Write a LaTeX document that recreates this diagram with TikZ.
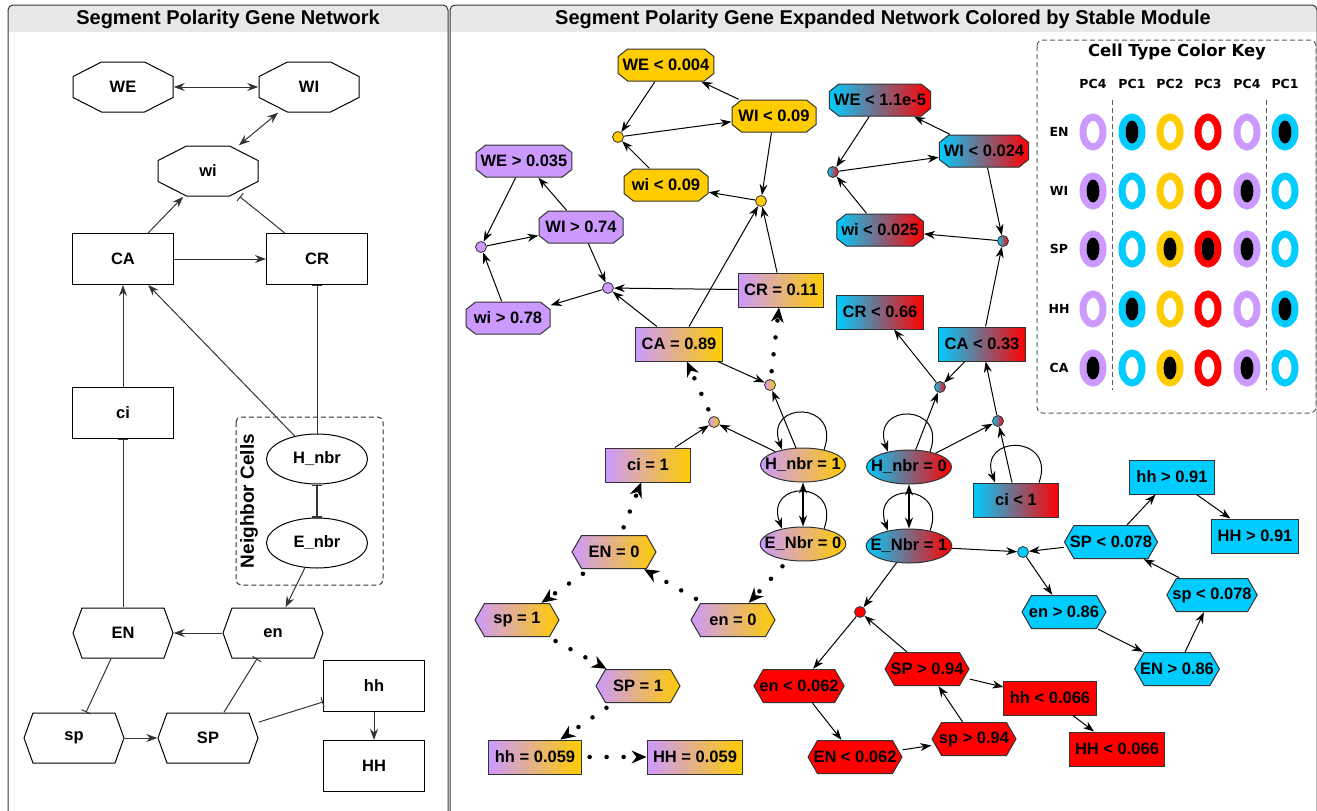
\documentclass[tikz,border=0pt]{standalone}
\usepackage{fontspec}
\setmainfont{Liberation Sans}
\newfontfamily\keyfont{DejaVu Sans}
\usetikzlibrary{arrows.meta,shapes.geometric}

\definecolor{modpurple}{HTML}{CC99FF}
\definecolor{modgold}{HTML}{FFCC00}
\definecolor{modcyan}{HTML}{00CCFF}
\definecolor{modred}{HTML}{FF0000}
\definecolor{bargray}{HTML}{E8E8E8}
\definecolor{edgegray}{HTML}{333333}

\begin{document}
\begin{tikzpicture}
[
    x = 1pt, y = -1pt,
    font = \bfseries\fontsize{16.5}{19}\selectfont,
    octagon/.style n args = {3}{path picture={
        \filldraw[line width=1pt, #3]
          ([xshift=#1, yshift=-0.5pt]path picture bounding box.north west)
          -- ([xshift=-#1, yshift=-0.5pt]path picture bounding box.north east)
          -- ([xshift=-0.5pt, yshift=-#2]path picture bounding box.north east)
          -- ([xshift=-0.5pt, yshift=#2]path picture bounding box.south east)
          -- ([xshift=-#1, yshift=0.5pt]path picture bounding box.south east)
          -- ([xshift=#1, yshift=0.5pt]path picture bounding box.south west)
          -- ([xshift=0.5pt, yshift=#2]path picture bounding box.south west)
          -- ([xshift=0.5pt, yshift=-#2]path picture bounding box.north west)
          -- cycle;}},
    hexagon/.style n args = {2}{path picture={
        \filldraw[line width=1pt, #2]
          ([xshift=#1, yshift=-0.5pt]path picture bounding box.north west)
          -- ([xshift=-#1, yshift=-0.5pt]path picture bounding box.north east)
          -- ([xshift=-0.5pt]path picture bounding box.east)
          -- ([xshift=-#1, yshift=0.5pt]path picture bounding box.south east)
          -- ([xshift=#1, yshift=0.5pt]path picture bounding box.south west)
          -- ([xshift=0.5pt]path picture bounding box.west)
          -- cycle;}},
    boxstyle/.style = {rectangle, draw, line width=1pt, inner sep=0pt,
                       minimum width=101, minimum height=51},
    octstyle/.style = {rectangle, inner sep=0pt,
                       minimum width=101, minimum height=51,
                       octagon={29pt}{15pt}{draw=black, fill=white}},
    hexstyle/.style = {rectangle, inner sep=0pt,
                       minimum width=101, minimum height=51,
                       hexagon={9.5pt}{draw=black, fill=white}},
    ellstyle/.style = {ellipse, draw, line width=1pt, inner sep=0pt,
                       minimum width=101, minimum height=50},
    modbox/.style   = {rectangle, draw=edgegray, line width=1pt,
                       inner xsep=6pt, inner ysep=0pt,
                       minimum width=85, minimum height=34},
    modoct/.style   = {rectangle, inner xsep=5pt, inner ysep=0pt,
                       minimum width=85, minimum height=33,
                       octagon={10pt}{8pt}{draw=edgegray, #1}},
    modhex/.style   = {rectangle, inner xsep=6pt, inner ysep=0pt,
                       minimum width=85, minimum height=34,
                       hexagon={10pt}{draw=edgegray, #1}},
    modell/.style   = {ellipse, draw=edgegray, line width=1pt,
                       inner xsep=-8pt, inner ysep=0pt,
                       minimum width=85, minimum height=34},
    junction/.style = {circle, draw=edgegray, line width=0.8pt, inner sep=0pt,
                       minimum size=11},
    pgfill/.style   = {left color=modpurple, right color=modgold},
    crfill/.style   = {left color=modcyan, right color=modred},
    arr/.style      = {line width=1pt, -{Stealth[length=11pt, width=8pt]}},
    darr/.style     = {line width=1pt,
                       {Stealth[length=11pt, width=8pt]}-{Stealth[length=11pt, width=8pt]}},
    inh/.style      = {line width=1pt, -{Bar[width=10pt]}},
    dotarr/.style   = {line width=4.5pt, line cap=round,
                       dash pattern=on 0pt off 17pt, dash phase=9pt,
                       -{Stealth[length=15pt, width=13pt, line width=0pt]}},
    titlestyle/.style = {font=\bfseries\fontsize{20}{24}\selectfont},
    ring/.style     = {ellipse, line width=7pt, fill=white, inner sep=0pt,
                       minimum width=20, minimum height=30},
    keysep/.style   = {edgegray!80, line width=1pt, dash pattern=on 5pt off 3pt}
]
\useasboundingbox (0,0) rectangle (1317,811);

% panels
\fill[bargray, rounded corners=5pt] (8,5) rectangle (448,32);
\fill[bargray] (8,20) rectangle (448,32);
\fill[bargray, rounded corners=5pt] (450,5) rectangle (1317,32);
\fill[bargray] (450,20) rectangle (1317,32);
\draw[edgegray, line width=1pt, rounded corners=5pt] (8,811) -- (8,5) -- (448,5) -- (448,811);
\draw[edgegray, line width=1pt, rounded corners=5pt] (450,811) -- (450,5) -- (1317,5) -- (1317,811);
\node[titlestyle] (ltitle) at (228,19) {Segment Polarity Gene Network};
\node[titlestyle] (rtitle) at (883,19) {Segment Polarity Gene Expanded Network Colored by Stable Module};

% left network
\node (aWE) [octstyle] at (123,87) {WE};
\node (aWI) [octstyle] at (309,87) {WI};
\node (awi) [octstyle] at (208,171) {wi};
\node (aCA) [boxstyle] at (123,259) {CA};
\node (aCR) [boxstyle] at (317,259) {CR};
\node (aci) [boxstyle] at (123,413) {ci};
\draw[edgegray, line width=1pt, dash pattern=on 5pt off 3pt, rounded corners=5pt]
    (236,417) rectangle (383,585);
\node (nbrcells) [rotate=90, font=\bfseries\fontsize{19}{22}\selectfont] at (249,501) {Neighbor Cells};
\node (aHn) [ellstyle] at (317,459) {H\_nbr};
\node (aEn) [ellstyle] at (317,543) {E\_nbr};
\node (aEN) [hexstyle] at (123,633) {EN};
\node (aen) [hexstyle] at (273,633) {en};
\node (asp) [hexstyle] at (74,738) {sp};
\node (aSP) [hexstyle] at (208,738) {SP};
\node (ahh) [boxstyle] at (374,686) {hh};
\node (aHH) [boxstyle] at (374,766) {HH};

\begin{scope}[edgegray]
\draw[darr] (aWE) -- (aWI);
\draw[darr] (aWI) -- (awi);
\draw[arr] (aCA) -- (awi);
\draw[inh] (aCR) -- (awi);
\draw[arr] (aCA) -- (aCR);
\draw[arr] (aci) -- (aCA);
\draw[arr] (aHn) -- (aCA);
\draw[inh] (aHn) -- (aCR);
\draw[line width=1.6pt, {Bar[width=10pt]}-{Bar[width=10pt]}] (aHn) -- (aEn);
\draw[arr] (aEn) -- (aen);
\draw[inh] (aEN) -- (aci);
\draw[arr] (aen) -- (aEN);
\draw[inh] (aEN) -- (asp);
\draw[arr] (asp) -- (aSP);
\draw[inh] (aSP) -- (aen);
\draw[inh] (aSP) -- (ahh);
\draw[arr] (ahh) -- (aHH);
\end{scope}

% expanded network: gold module
\node (gWE) [modoct={fill=modgold}] at (666,65) {WE < 0.004};
\node (gWI) [modoct={fill=modgold}] at (774,116) {WI < 0.09};
\node (gwi) [modoct={fill=modgold}] at (666,185) {wi < 0.09};
\node (gj1) [junction, fill=modgold] at (618,137) {};
\node (gj2) [junction, fill=modgold] at (761,201) {};

% purple module
\node (pWE) [modoct={fill=modpurple}] at (524,161) {WE > 0.035};
\node (pWI) [modoct={fill=modpurple}] at (581,227) {WI > 0.74};
\node (pwi) [modoct={fill=modpurple}] at (508,318) {wi > 0.78};
\node (pj1) [junction, fill=modpurple] at (481,247) {};
\node (pj2) [junction, fill=modpurple] at (608,288) {};

% purple-gold nodes
\node (pgCR) [modbox, pgfill] at (781,290) {CR = 0.11};
\node (pgCA) [modbox, pgfill] at (679,344) {CA = 0.89};
\node (pgci) [modbox, pgfill] at (648,465) {ci = 1};
\node (pgHn) [modell, pgfill] at (803,465) {H\_nbr = 1};
\node (pgEn) [modell, pgfill] at (803,544) {E\_Nbr = 0};
\node (pgEN) [modhex=pgfill] at (614,552) {EN = 0};
\node (pgsp) [modhex=pgfill] at (517,620) {sp = 1};
\node (pgen) [modhex=pgfill] at (733,620) {en = 0};
\node (pgSP) [modhex=pgfill] at (638,686) {SP = 1};
\node (pghh) [modbox, pgfill] at (535,757) {hh = 0.059};
\node (pgHH) [modbox, pgfill] at (695,757) {HH = 0.059};
\node (pj3) [junction, pgfill] at (770,385) {};
\node (pj4) [junction, pgfill] at (714,422) {};

% cyan-red nodes
\node (cWE) [modoct=crfill] at (880,100) {WE < 1.1e-5};
\node (cWI) [modoct=crfill] at (984,151) {WI < 0.024};
\node (cwi) [modoct=crfill] at (880,230) {wi < 0.025};
\node (cCR) [modbox, crfill] at (880,312) {CR < 0.66};
\node (cCA) [modbox, crfill] at (982,344) {CA < 0.33};
\node (cHn) [modell, crfill] at (909,467) {H\_nbr = 0};
\node (cEn) [modell, crfill] at (909,546) {E\_Nbr = 1};
\node (cci) [modbox, crfill] at (1016,500) {ci < 1};
\node (cj1) [junction, crfill] at (833,172) {};
\node (cj2) [junction, crfill] at (1003,241) {};
\node (cj3) [junction, crfill] at (940,387) {};
\node (cj4) [junction, crfill] at (998,421) {};

% cyan module
\node (ySP) [modhex={fill=modcyan}] at (1111,542) {SP < 0.078};
\node (yhh) [modbox, fill=modcyan] at (1172,477) {hh > 0.91};
\node (yHH) [modbox, fill=modcyan] at (1255,536) {HH > 0.91};
\node (ysp) [modhex={fill=modcyan}] at (1212,595) {sp < 0.078};
\node (yen) [modhex={fill=modcyan}] at (1064,612) {en > 0.86};
\node (yEN) [modhex={fill=modcyan}] at (1177,669) {EN > 0.86};
\node (yj1) [junction, fill=modcyan] at (1023,552) {};

% red module
\node (ren) [modhex={fill=modred}] at (799,686) {en < 0.062};
\node (rEN) [modhex={fill=modred}] at (855,757) {EN < 0.062};
\node (rsp) [modhex={fill=modred}] at (974,739) {sp > 0.94};
\node (rSP) [modhex={fill=modred}] at (927,669) {SP > 0.94};
\node (rhh) [modbox, fill=modred] at (1050,698) {hh < 0.066};
\node (rHH) [modbox, fill=modred] at (1117,749) {HH < 0.066};
\node (rj1) [junction, fill=modred] at (860,612) {};

\draw[arr] (gWE) -- (gj1);
\draw[arr] (gj1) -- (gWI);
\draw[arr] (gWI) -- (gWE);
\draw[arr] (gwi) -- (gj1);
\draw[arr] (gWI) -- (gj2);
\draw[arr] (gj2) -- (gwi);
\draw[arr] (pgCA) -- (gj2);
\draw[arr] (pgCR) -- (gj2);

\draw[arr] (pWE) -- (pj1);
\draw[arr] (pj1) -- (pWI);
\draw[arr] (pWI) -- (pWE);
\draw[arr] (pwi) -- (pj1);
\draw[arr] (pWI) -- (pj2);
\draw[arr] (pj2) -- (pwi);
\draw[arr] (pgCR) -- (pj2);
\draw[arr] (pgCA) -- (pj2);

\draw[arr] (pgCA) -- (pj3);
\draw[arr] (pgHn) -- (pj3);
\draw[arr] (pgci) -- (pj4);
\draw[arr] (pgHn) -- (pj4);
\draw[arr] (pgHn.36) to[out=70, in=110, looseness=3.2] (pgHn.144);
\draw[arr] (pgEn.36) to[out=70, in=110, looseness=3.2] (pgEn.144);
\draw[darr, line width=1.5pt] (pgHn) -- (pgEn);

\draw[dotarr] (pj3) -- (pgCR);
\draw[dotarr] (pj4) -- (pgCA);
\draw[dotarr] (pgEN) -- (pgci);
\draw[dotarr] (pgen) -- (pgEN);
\draw[dotarr] (pgEN) -- (pgsp);
\draw[dotarr] (pgEn) -- (pgen);
\draw[dotarr] (pgsp) -- (pgSP);
\draw[dotarr] (pgSP) -- (pghh);
\draw[dotarr] (pghh) -- (pgHH);

\draw[arr] (cWE) -- (cj1);
\draw[arr] (cj1) -- (cWI);
\draw[arr] (cWI) -- (cWE);
\draw[arr] (cwi) -- (cj1);
\draw[arr] (cWI) -- (cj2);
\draw[arr] (cj2) -- (cwi);
\draw[arr] (cCA) -- (cj2);
\draw[arr] (cCA) -- (cj3);
\draw[arr] (cj3) -- (cCR);
\draw[arr] (cHn) -- (cj3);
\draw[arr] (cHn) -- (cj4);
\draw[arr] (cci) -- (cj4);
\draw[arr] (cj4) -- (cCA);
\draw[arr] (cHn.36) to[out=70, in=110, looseness=3.2] (cHn.144);
\draw[arr] (cEn.36) to[out=70, in=110, looseness=3.2] (cEn.144);
\draw[arr] ([xshift=23pt]cci.north) to[out=70, in=110, looseness=3] ([xshift=-21pt]cci.north);
\draw[darr, line width=1.5pt] (cHn) -- (cEn);

\draw[arr] (cEn) -- (yj1);
\draw[arr] (ySP) -- (yj1);
\draw[arr] (yj1) -- (yen);
\draw[arr] (yen) -- (yEN);
\draw[arr] (yEN) -- (ysp);
\draw[arr] (ysp) -- (ySP);
\draw[arr] (ySP) -- (yhh);
\draw[arr] (yhh) -- (yHH);

\draw[arr] (cEn) -- (rj1);
\draw[arr] (rj1) -- (ren);
\draw[arr] (ren) -- (rEN);
\draw[arr] (rEN) -- (rsp);
\draw[arr] (rsp) -- (rSP);
\draw[arr] (rSP) -- (rj1);
\draw[arr] (rSP) -- (rhh);
\draw[arr] (rhh) -- (rHH);

% color key
\draw[edgegray!80, line width=1pt, dash pattern=on 5pt off 3pt, rounded corners=6pt]
    (1037,40) rectangle (1316,413);
\node (keytitle) [font=\keyfont\bfseries\fontsize{16.5}{20}\selectfont] at (1177,52) {Cell Type Color Key};
\foreach \cx/\cl [count=\ci] in {1093/PC4,1132/PC1,1170/PC2,1208/PC3,1247/PC4,1285/PC1}
  \node (kc\ci) [font=\keyfont\bfseries\fontsize{12.5}{15}\selectfont] at (\cx,84) {\cl};
\foreach \rl/\ry [count=\ri] in {EN/132,WI/191,SP/249,HH/309,CA/368}
{
  \node (kr\ri) [font=\keyfont\bfseries\fontsize{12.5}{15}\selectfont] at (1059,\ry) {\rl};
  \foreach \cx/\cc [count=\ci] in {1093/modpurple,1132/modcyan,1170/modgold,1208/modred,1247/modpurple,1285/modcyan}
    \node (k\ri\ci) [ring, draw=\cc] at (\cx,\ry) {};
}
\foreach \ri/\ci in {1/2,1/6,2/1,2/5,3/1,3/3,3/4,3/5,4/2,4/6,5/1,5/3,5/5}
  \fill (k\ri\ci.center) ellipse [x radius=6.5, y radius=11.5];
\draw[keysep] (1112,100) -- (1112,390);
\draw[keysep] (1266,100) -- (1266,390);
\end{tikzpicture}
\end{document}
